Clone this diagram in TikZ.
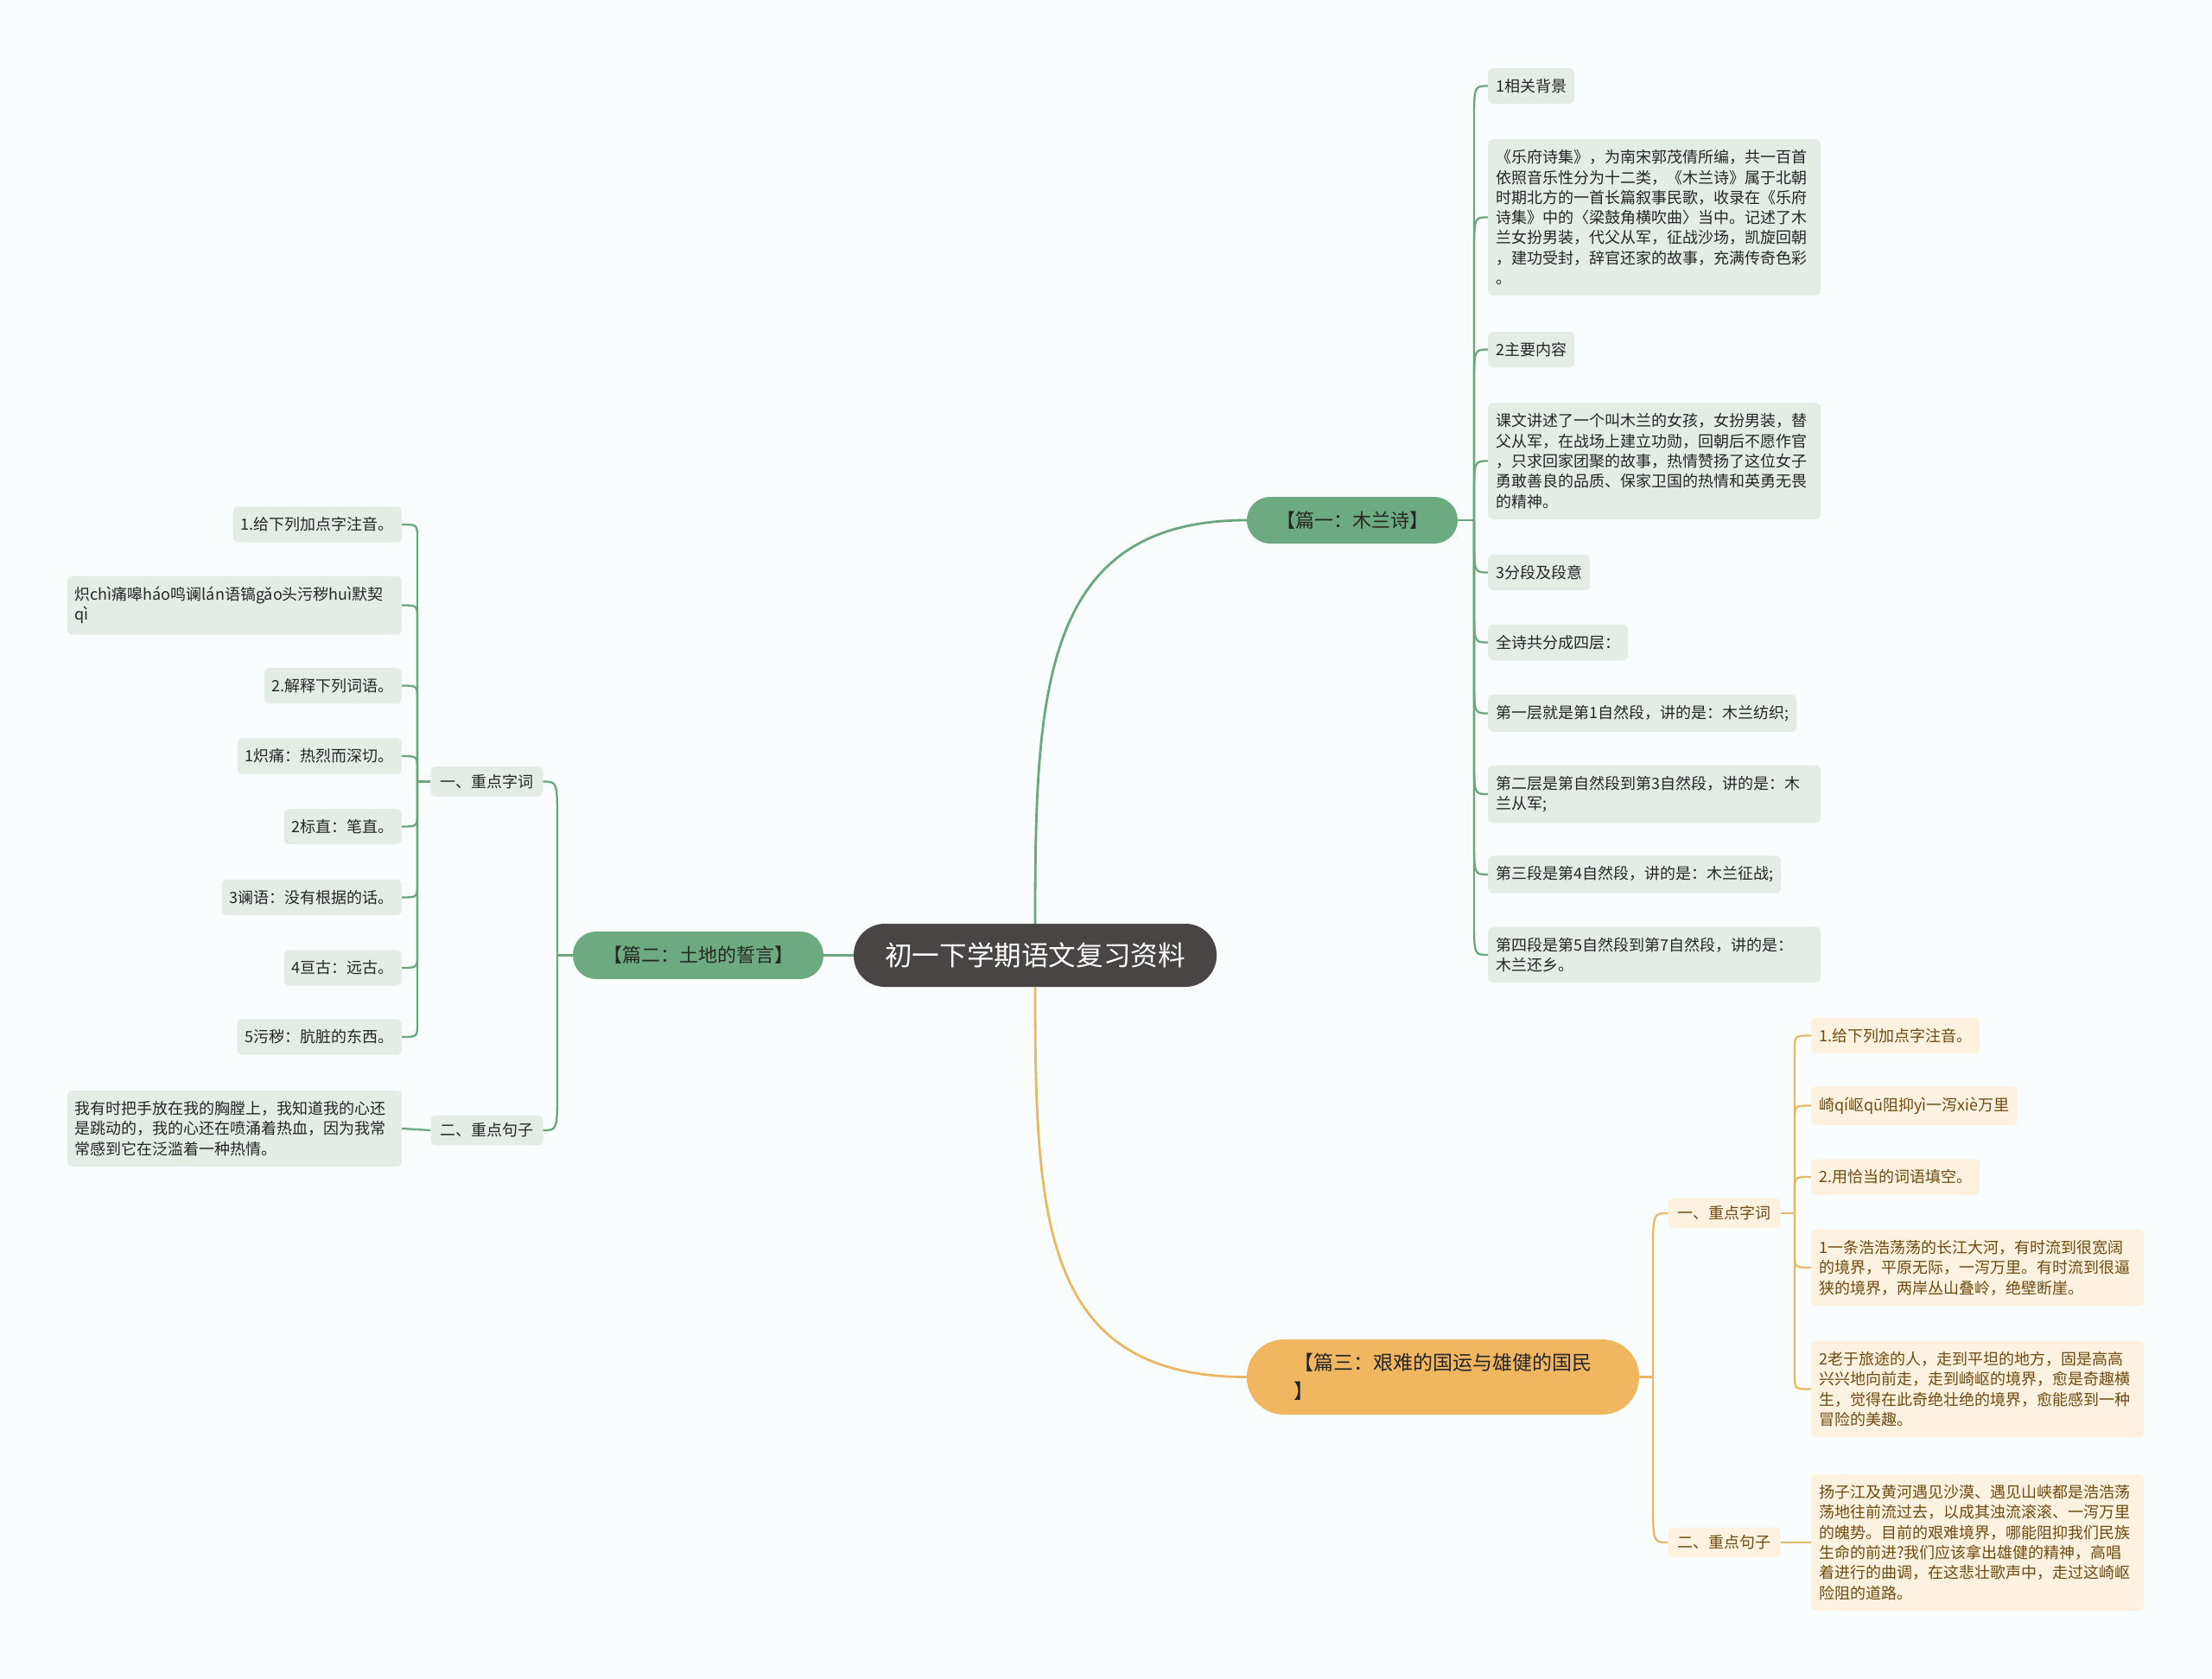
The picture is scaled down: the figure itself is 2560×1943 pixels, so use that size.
\documentclass[tikz,border=0pt]{standalone}
\usepackage{fontspec}
\setmainfont{Noto Sans CJK SC}
\usetikzlibrary{calc}
\definecolor{bg}{HTML}{F9FDFD}
\definecolor{gline}{HTML}{6BA67E}
\definecolor{gfill}{HTML}{E3EDE6}
\definecolor{gmain}{HTML}{6DAA80}
\definecolor{oline}{HTML}{E9B865}
\definecolor{ofill}{HTML}{FDF1E0}
\definecolor{omain}{HTML}{F0B660}
\definecolor{otext}{HTML}{704A10}
\definecolor{rootc}{HTML}{4A4545}
\definecolor{tdark}{HTML}{262626}
\begin{document}
\begin{tikzpicture}[x=1pt,y=-1pt,
 rootnode/.style={fill=rootc, text=white, rounded corners=36pt, minimum width=420pt, minimum height=73pt, inner sep=0pt, font=\fontsize{31.6}{38}\selectfont},
 mainnode/.style={text=tdark, inner sep=0pt, font=\fontsize{22}{32}\selectfont},
 gleaf/.style={fill=gfill, text=tdark, rounded corners=6pt, inner xsep=9pt, inner ysep=12.3pt, align=left, font=\fontsize{18}{23.3}\selectfont},
 oleaf/.style={gleaf, fill=ofill, text=otext},
 glevel/.style={gleaf, inner ysep=9pt, minimum width=130pt},
 olevel/.style={oleaf, inner ysep=9pt, minimum width=130pt},
 glink/.style={draw=gline, line width=2.3pt},
 olink/.style={draw=oline, line width=2.3pt},
]
\useasboundingbox[fill=bg] (0,0) rectangle (2560,1943);

% root and main topics
\node[rootnode] (root) at (1198,1105.5) {初一下学期语文复习资料};
\node[mainnode, fill=gmain, rounded corners=27pt, minimum width=244pt, minimum height=54pt] (p1) at (1565,602) {【篇一：木兰诗】};
\node[mainnode, fill=gmain, rounded corners=27pt, minimum width=290pt, minimum height=55pt] (p2) at (808,1105.5) {【篇二：土地的誓言】};
\node[mainnode, fill=omain, rounded corners=43pt, minimum width=454pt, minimum height=87pt, align=left, font=\fontsize{23}{33}\selectfont] (p3) at (1670,1593.5) {【篇三：艰难的国运与雄健的国民\\】};

% main connectors
\draw[glink, line width=2.8pt] (root.north) .. controls ($(root.north)+(0,-270)$) and ($(root.north |- p1.west)+(8,0)$) .. (p1.west);
\draw[olink, line width=2.8pt] (root.south) .. controls ($(root.south)+(0,270)$) and ($(root.south |- p3.west)+(8,0)$) .. (p3.west);
\draw[glink, line width=2.8pt] (root.west) -- (p2.east);

% ---------- branch 1 (right, green)
\coordinate (s1) at (1706,602);
\node[gleaf, anchor=west] (g1) at (1722,99.5) {1相关背景};
\node[gleaf, anchor=west, text width=367pt] (g2) at (1722,251.5) {《乐府诗集》，为南宋郭茂倩所编，共一百首\\依照音乐性分为十二类，《木兰诗》属于北朝\\时期北方的一首长篇叙事民歌，收录在《乐府\\诗集》中的〈梁鼓角横吹曲〉当中。记述了木\\兰女扮男装，代父从军，征战沙场，凯旋回朝\\，建功受封，辞官还家的故事，充满传奇色彩\\。};
\node[gleaf, anchor=west] (g3) at (1722,404.5) {2主要内容};
\node[gleaf, anchor=west, text width=367pt] (g4) at (1722,533.5) {课文讲述了一个叫木兰的女孩，女扮男装，替\\父从军，在战场上建立功勋，回朝后不愿作官\\，只求回家团聚的故事，热情赞扬了这位女子\\勇敢善良的品质、保家卫国的热情和英勇无畏\\的精神。};
\node[gleaf, anchor=west] (g5) at (1722,662.5) {3分段及段意};
\node[gleaf, anchor=west] (g6) at (1722,743.5) {全诗共分成四层：};
\node[gleaf, anchor=west] (g7) at (1722,825.5) {第一层就是第1自然段，讲的是：木兰纺织;};
\node[gleaf, anchor=west, text width=367pt] (g8) at (1722,919) {第二层是第自然段到第3自然段，讲的是：木\\兰从军;};
\node[gleaf, anchor=west] (g9) at (1722,1012) {第三段是第4自然段，讲的是：木兰征战;};
\node[gleaf, anchor=west, text width=367pt] (g10) at (1722,1105) {第四段是第5自然段到第7自然段，讲的是：\\木兰还乡。};

\draw[glink] (p1.east) -- (s1);
\foreach \n/\s in {g1/1,g2/1,g3/1,g4/1,g5/-1,g6/-1,g7/-1,g8/-1,g9/-1,g10/-1}
  \draw[glink] (s1) -- ($(s1 |- \n.west)+(0,\s*42)$) .. controls (s1 |- \n.west) .. (\n.west);

% ---------- branch 2 (left, green)
\coordinate (s2) at (645,1105.5);
\node[glevel] (L1) at (563.5,904.5) {一、重点字词};
\node[glevel] (L2) at (563.5,1308) {二、重点句子};
\draw[glink] (p2.west) -- (s2);
\draw[glink] (s2) -- ($(s2 |- L1.east)+(0,50)$) .. controls (s2 |- L1.east) .. (L1.east);
\draw[glink] (s2) -- ($(s2 |- L2.east)+(0,-50)$) .. controls (s2 |- L2.east) .. (L2.east);

\coordinate (s3) at (483,904.5);
\node[gleaf, anchor=east] (a1) at (465,607) {1.给下列加点字注音。};
\node[gleaf, anchor=east, text width=369pt] (a2) at (465,700.5) {炽chì痛嗥háo鸣谰lán语镐gǎo头污秽huì默契\\qì};
\node[gleaf, anchor=east] (a3) at (465,793.5) {2.解释下列词语。};
\node[gleaf, anchor=east] (a4) at (465,875) {1炽痛：热烈而深切。};
\node[gleaf, anchor=east] (a5) at (465,956.5) {2标直：笔直。};
\node[gleaf, anchor=east] (a6) at (465,1038.5) {3谰语：没有根据的话。};
\node[gleaf, anchor=east] (a7) at (465,1120) {4亘古：远古。};
\node[gleaf, anchor=east] (a8) at (465,1200) {5污秽：肮脏的东西。};
\draw[glink] (L1.west) -- (s3);
\foreach \n/\s in {a1/1,a2/1,a3/1,a4/1,a5/-1,a6/-1,a7/-1,a8/-1}
  \draw[glink] (s3) -- ($(s3 |- \n.east)+(0,\s*16)$) .. controls (s3 |- \n.east) .. (\n.east);

\node[gleaf, anchor=east, text width=369pt] (d1) at (465,1306) {我有时把手放在我的胸膛上，我知道我的心还\\是跳动的，我的心还在喷涌着热血，因为我常\\常感到它在泛滥着一种热情。};
\draw[glink] (L2.west) -- (d1.east);

% ---------- branch 3 (right, orange)
\coordinate (s4) at (1913,1593.5);
\node[olevel] (O1) at (1995.5,1404) {一、重点字词};
\node[olevel] (O2) at (1995.5,1785) {二、重点句子};
\draw[olink] (p3.east) -- (s4);
\draw[olink] (s4) -- ($(s4 |- O1.west)+(0,50)$) .. controls (s4 |- O1.west) .. (O1.west);
\draw[olink] (s4) -- ($(s4 |- O2.west)+(0,-50)$) .. controls (s4 |- O2.west) .. (O2.west);

\coordinate (s5) at (2077,1404);
\node[oleaf, anchor=west] (b1) at (2096,1198.5) {1.给下列加点字注音。};
\node[oleaf, anchor=west] (b2) at (2096,1279.5) {崎qí岖qū阻抑yì一泻xiè万里};
\node[oleaf, anchor=west] (b3) at (2096,1362) {2.用恰当的词语填空。};
\node[oleaf, anchor=west, text width=367pt] (b4) at (2096,1467) {1一条浩浩荡荡的长江大河，有时流到很宽阔\\的境界，平原无际，一泻万里。有时流到很逼\\狭的境界，两岸丛山叠岭，绝壁断崖。};
\node[oleaf, anchor=west, text width=367pt] (b5) at (2096,1607.5) {2老于旅途的人，走到平坦的地方，固是高高\\兴兴地向前走，走到崎岖的境界，愈是奇趣横\\生，觉得在此奇绝壮绝的境界，愈能感到一种\\冒险的美趣。};
\draw[olink] (O1.east) -- (s5);
\foreach \n/\s in {b1/1,b2/1,b3/1,b4/-1,b5/-1}
  \draw[olink] (s5) -- ($(s5 |- \n.west)+(0,\s*16)$) .. controls (s5 |- \n.west) .. (\n.west);

\node[oleaf, anchor=west, text width=367pt] (c1) at (2096,1785) {扬子江及黄河遇见沙漠、遇见山峡都是浩浩荡\\荡地往前流过去，以成其浊流滚滚、一泻万里\\的魄势。目前的艰难境界，哪能阻抑我们民族\\生命的前进?我们应该拿出雄健的精神，高唱\\着进行的曲调，在这悲壮歌声中，走过这崎岖\\险阻的道路。};
\draw[olink] (O2.east) -- (c1.west);
\end{tikzpicture}
\end{document}
